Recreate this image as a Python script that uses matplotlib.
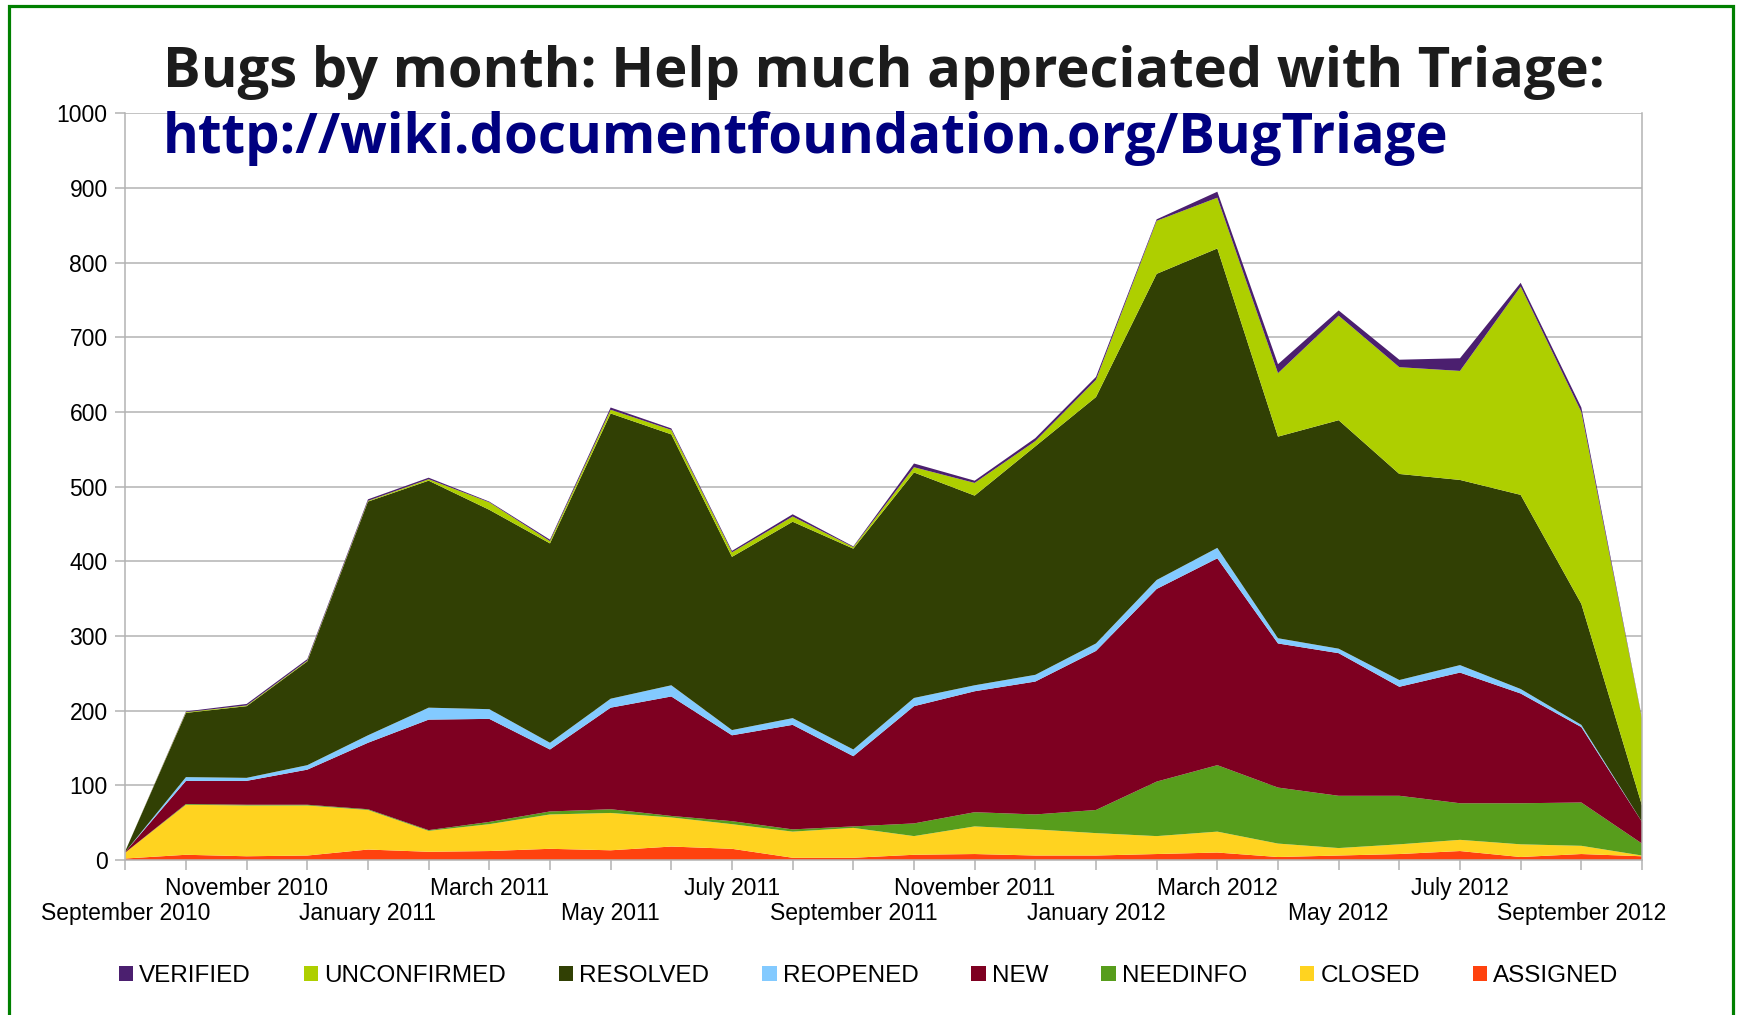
import matplotlib
matplotlib.use("Agg")
import matplotlib.pyplot as plt
from matplotlib.patches import Rectangle, Patch
from matplotlib.transforms import blended_transform_factory

# months Sep 2010 .. Oct 2012
months = ["September 2010", "October 2010", "November 2010", "December 2010",
          "January 2011", "February 2011", "March 2011", "April 2011",
          "May 2011", "June 2011", "July 2011", "August 2011",
          "September 2011", "October 2011", "November 2011", "December 2011",
          "January 2012", "February 2012", "March 2012", "April 2012",
          "May 2012", "June 2012", "July 2012", "August 2012",
          "September 2012", "October 2012"]

# stack order bottom -> top
assigned = [2, 7, 5, 6, 14, 11, 12, 15, 13, 18, 15, 3, 3, 7, 8, 6, 6, 8, 10, 4, 6, 8, 12, 4, 8, 5]
closed = [8, 67, 68, 67, 53, 28, 36, 46, 50, 39, 33, 35, 40, 25, 37, 35, 30, 24, 28, 18, 10, 13, 15, 17, 11, 1]
needinfo = [0, 1, 1, 1, 1, 1, 3, 4, 5, 2, 4, 3, 2, 17, 19, 20, 31, 73, 89, 75, 70, 65, 49, 55, 58, 16]
new = [1, 31, 32, 47, 89, 148, 138, 83, 136, 160, 115, 140, 94, 157, 162, 178, 213, 258, 277, 193, 191, 146, 175, 147, 101, 29]
reopened = [0, 5, 4, 6, 10, 16, 13, 9, 12, 15, 7, 9, 9, 11, 8, 9, 10, 12, 14, 7, 6, 9, 10, 6, 3, 0]
resolved = [1, 86, 96, 139, 313, 304, 267, 267, 382, 336, 232, 263, 269, 302, 254, 306, 330, 410, 401, 270, 306, 276, 248, 260, 162, 22]
unconfirmed = [0, 1, 1, 1, 1, 2, 10, 3, 5, 6, 6, 7, 2, 7, 17, 7, 23, 71, 68, 85, 140, 143, 146, 279, 257, 116]
verified = [0, 1, 2, 2, 2, 2, 1, 2, 3, 2, 2, 3, 1, 5, 3, 4, 4, 2, 8, 12, 7, 10, 17, 5, 6, 1]

series = ["ASSIGNED", "CLOSED", "NEEDINFO", "NEW", "REOPENED", "RESOLVED", "UNCONFIRMED", "VERIFIED"]
colors = ["#ff420e", "#ffd320", "#579d1c", "#7e0021", "#83caff", "#314004", "#aecf00", "#4b1f6f"]

plt.rcParams["font.family"] = ["Liberation Sans", "DejaVu Sans"]

W, H = 1737, 1015
fig = plt.figure(figsize=(W / 100, H / 100), dpi=100)
ax = fig.add_axes([125.3 / W, 1 - 860 / H, (1642 - 125.3) / W, (860 - 113.3) / H])

x = list(range(len(months)))
ax.stackplot(x, assigned, closed, needinfo, new, reopened, resolved, unconfirmed, verified,
             colors=colors, linewidth=0, zorder=2)

ax.set_xlim(0, len(months) - 1)
ax.set_ylim(0, 1000)
ax.set_yticks(range(0, 1001, 100))
ax.yaxis.grid(True, color="#b3b3b3", linewidth=1.1, zorder=0)
ax.set_axisbelow(True)
for s in ["left", "bottom", "right"]:
    ax.spines[s].set_color("#b3b3b3")
    ax.spines[s].set_linewidth(1.1)
ax.spines["top"].set_visible(False)
ax.tick_params(axis="y", direction="out", length=7.2, width=1.1, color="#b3b3b3",
               labelsize=16.5, pad=5.5, labelcolor="black")
ax.set_xticks(x)
ax.set_xticklabels([])
ax.tick_params(axis="x", direction="out", length=7.2, width=1.1, color="#b3b3b3")

# staggered month labels every two months
tr = blended_transform_factory(ax.transData, fig.transFigure)
for i in range(0, len(months), 2):
    row = (i // 2) % 2
    ybase = 895 if row == 1 else 920
    ax.text(i, 1 - ybase / H, months[i], transform=tr, ha="center", va="baseline",
            fontsize=16.5, color="black")

renderer = fig.canvas.get_renderer()


def fit_width(t, target):
    w = t.get_window_extent(renderer).width
    t.set_fontsize(t.get_fontsize() * target / w)


t1 = fig.text(163 / W, 1 - 86.7 / H, "Bugs by month: Help much appreciated with Triage:",
              fontsize=38, fontweight="bold", color="#1c1c1c", ha="left", va="baseline",
              family="Open Sans")
t2 = fig.text(163 / W, 1 - 153.3 / H, "http://wiki.documentfoundation.org/BugTriage",
              fontsize=38, fontweight="bold", color="#000080", ha="left", va="baseline",
              family="Open Sans")
fit_width(t1, 1443)
fit_width(t2, 1284)

handles = [Patch(facecolor=c, edgecolor="none", label=n) for n, c in zip(series, colors)]
handles = handles[::-1]
leg_kw = dict(loc="center", bbox_to_anchor=(0.5, 1 - 976 / H), ncol=8, frameon=False,
              fontsize=17.5, handlelength=0.6, handleheight=0.6, handletextpad=0.25,
              borderpad=0)
leg = fig.legend(handles=handles, columnspacing=2.0, **leg_kw)
w0 = leg.get_window_extent(renderer).width
# widen column gaps so the legend spans the same width as the reference
cs = 2.0 + (1500 - w0) / 7 / (17.5 * 100 / 72)
leg.remove()
fig.legend(handles=handles, columnspacing=cs, **leg_kw)

fig.add_artist(Rectangle((9 / W, -0.02), (1733 - 9) / W, 1 - 6 / H + 0.02,
                         transform=fig.transFigure, fill=False, edgecolor="#008000",
                         linewidth=2.3))

fig.savefig("out.png", dpi=100)
